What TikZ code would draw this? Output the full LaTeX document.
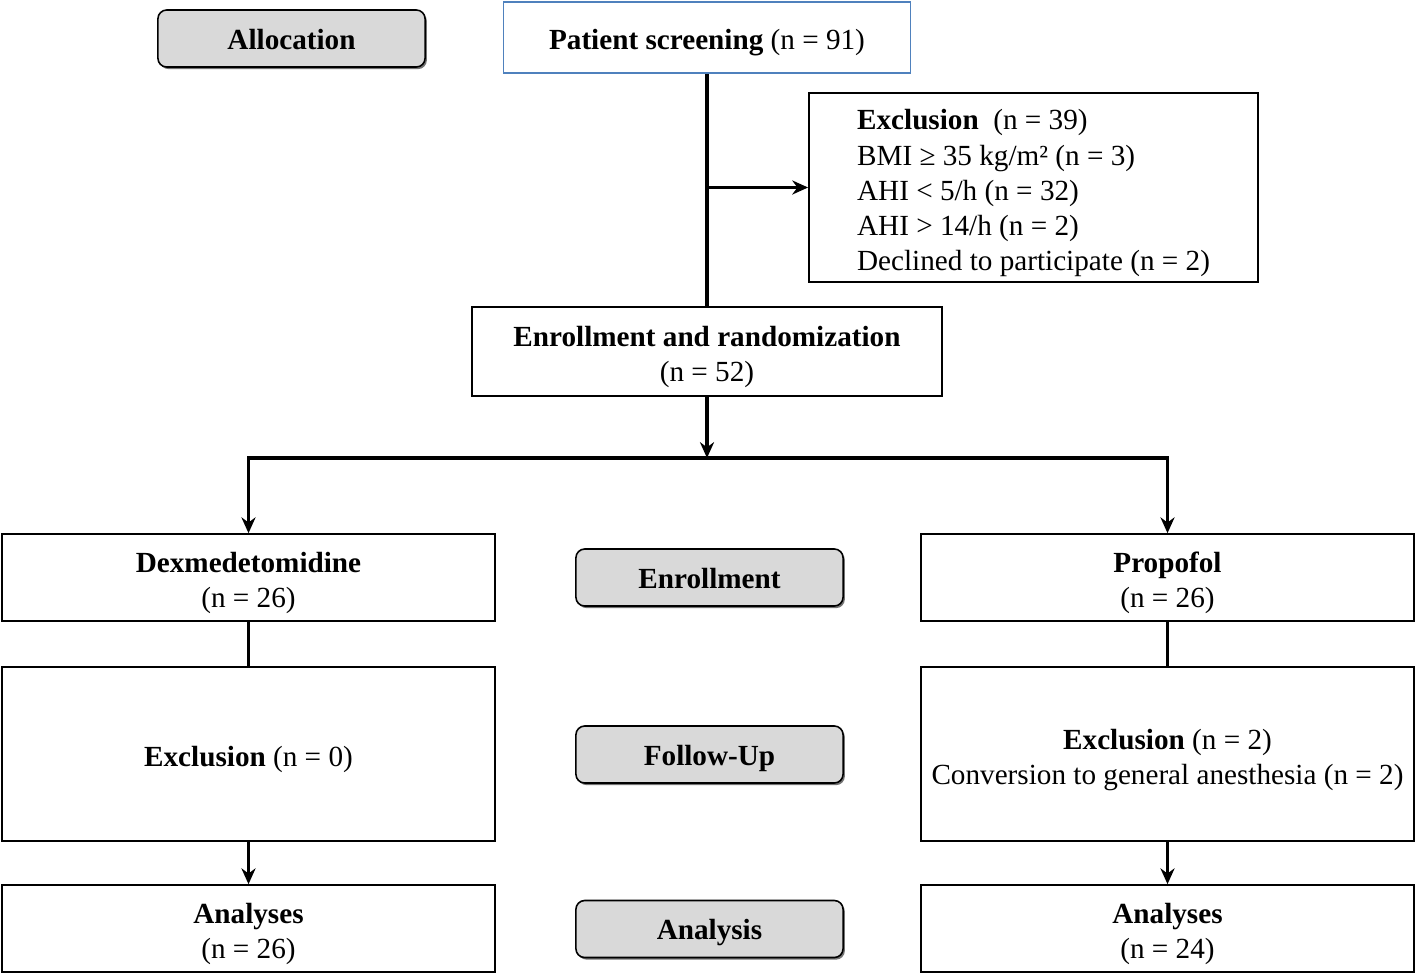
\documentclass[tikz,border=0pt]{standalone}
\usepackage{fontspec}
\setmainfont{Liberation Serif}
\usetikzlibrary{arrows.meta,shadows}
\definecolor{screenblue}{RGB}{79,129,189}
\definecolor{tagfill}{RGB}{217,217,217}
\newcommand\lift{\rule{0pt}{9pt}}

\begin{document}
\begin{tikzpicture}[x=0.01cm,y=-0.01cm,
  every node/.style={font=\fontsize{8.3}{10}\selectfont, align=center},
  box/.style={draw, line width=0.45pt, inner sep=0pt,
    execute at begin node={\rule{0pt}{8.6pt}}},
  wide/.style={box, minimum width=4.93cm, minimum height=0.87cm},
  tag/.style={draw, rounded corners=2.5pt, fill=tagfill, line width=0.45pt,
    minimum width=2.67cm, minimum height=0.57cm, text height=7pt, text depth=1pt,
    drop shadow={shadow xshift=0.5pt, shadow yshift=-0.6pt, fill=black!55, opacity=1}},
  conn/.style={line width=0.9pt},
  arr/.style={conn, -{Stealth[length=4.5pt,width=4pt]}}]
\useasboundingbox (0,0) rectangle (1418,975);

% top row
\node[tag] (alloc) at (291.5,38.5) {\textbf{Allocation}};
\node[box, draw=screenblue, minimum width=4.07cm, minimum height=0.71cm] (screen) at (707,37.5)
  {\textbf{Patient screening} (n = 91)};
\node[box, minimum width=4.49cm, minimum height=1.89cm, align=left] (excl) at (1033.5,187.5)
  {\lift\textbf{Exclusion}\ \ (n = 39)\\
   BMI ≥ 35 kg/m² (n = 3)\\
   AHI < 5/h (n = 32)\\
   AHI > 14/h (n = 2)\\
   Declined to participate (n = 2)};
\node[box, minimum width=4.70cm, minimum height=0.89cm] (enroll) at (707,351.5)
  {\lift\textbf{Enrollment and randomization}\\(n = 52)};
\coordinate (split) at (707,458);

% groups
\node[wide] (dex) at (248.5,577.5) {\lift\textbf{Dexmedetomidine}\\(n = 26)};
\node[wide] (prop) at (1167.5,577.5) {\lift\textbf{Propofol}\\(n = 26)};
\node[tag] (enrtag) at (709.5,577.5) {\textbf{Enrollment}};

\node[wide, minimum height=1.74cm] (exdex) at (248.5,754) {\textbf{Exclusion} (n = 0)};
\node[wide, minimum height=1.74cm] (exprop) at (1167.5,754)
  {\lift\textbf{Exclusion} (n = 2)\\Conversion to general anesthesia (n = 2)};
\node[tag] (futag) at (709.5,754.5) {\textbf{Follow-Up}};

\node[wide] (andex) at (248.5,928.5) {\lift\textbf{Analyses}\\(n = 26)};
\node[wide] (anprop) at (1167.5,928.5) {\lift\textbf{Analyses}\\(n = 24)};
\node[tag] (antag) at (709.5,929) {\textbf{Analysis}};

% connectors
\draw[conn] (screen.south) -- (screen.south |- enroll.north);
\draw[arr] (screen.south |- excl.west) -- (excl.west);
\draw[arr] (enroll.south) -- (split);
\draw[arr] (split) -| (dex.north);
\draw[arr] (split) -| (prop.north);
\draw[conn] (dex.south) -- (exdex.north);
\draw[conn] (prop.south) -- (exprop.north);
\draw[arr] (exdex.south) -- (andex.north);
\draw[arr] (exprop.south) -- (anprop.north);
\end{tikzpicture}
\end{document}
